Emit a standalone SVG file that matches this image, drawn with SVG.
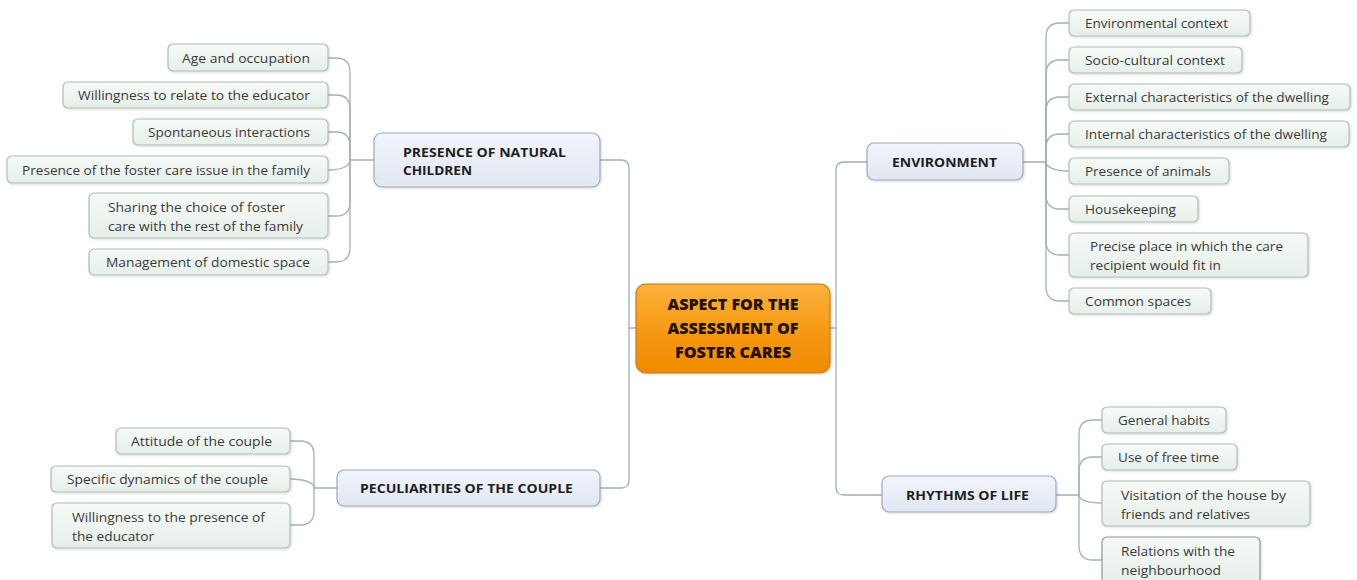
<svg xmlns="http://www.w3.org/2000/svg" width="1357" height="580" viewBox="0 0 1357 580">
<defs>
<linearGradient id="gLeaf" x1="0" y1="0" x2="0" y2="1"><stop offset="0" stop-color="#f6faf7"/><stop offset="1" stop-color="#e6efe9"/></linearGradient>
<linearGradient id="gMain" x1="0" y1="0" x2="0" y2="1"><stop offset="0" stop-color="#f2f5fb"/><stop offset="1" stop-color="#e0e7f1"/></linearGradient>
<linearGradient id="gCenter" x1="0" y1="0" x2="0" y2="1"><stop offset="0" stop-color="#fbb23e"/><stop offset="0.5" stop-color="#f69a14"/><stop offset="1" stop-color="#ef8a00"/></linearGradient>
<filter id="sh" x="-5%" y="-10%" width="110%" height="130%"><feDropShadow dx="1" dy="1" stdDeviation="1" flood-color="#000" flood-opacity="0.15"/></filter>
</defs>
<style>
.leaf{fill:url(#gLeaf);stroke:#aebdb6;stroke-width:1.2;filter:url(#sh)}
.main{fill:url(#gMain);stroke:#9ba8ba;stroke-width:1.2;filter:url(#sh)}
.center{fill:url(#gCenter);stroke:#d07a0c;stroke-width:1.2;filter:url(#sh)}
.t{font-family:"Open Sans","Noto Sans",sans-serif;font-size:13.5px;fill:#3a3a3a}
.b{font-family:"Open Sans","Noto Sans",sans-serif;font-size:13px;font-weight:bold;fill:#1e1e1e}
.c{font-family:"Open Sans","Noto Sans",sans-serif;font-size:15px;font-weight:800;fill:#241200;text-anchor:middle}
.con{fill:none;stroke:#a3afbb;stroke-width:1.3}
</style>
<rect width="1357" height="580" fill="#ffffff"/>
<g id="connectors">
<path class="con" d="M636 328 H629 V168 Q629 160 621 160 H600"/>
<path class="con" d="M629 328 V480 Q629 488 621 488 H600"/>
<path class="con" d="M830 328 H836 V170 Q836 162 844 162 H867"/>
<path class="con" d="M836 328 V487 Q836 495 844 495 H882"/>
<path class="con" d="M374 160 H350 V72 Q350 58 336 58 H328"/>
<path class="con" d="M350 160 V109 Q350 95 336 95 H328"/>
<path class="con" d="M350 160 V146 Q350 132 336 132 H328"/>
<path class="con" d="M350 160 C350 166 342 170 328 170"/>
<path class="con" d="M350 160 V202 Q350 216 336 216 H328"/>
<path class="con" d="M350 160 V248 Q350 262 336 262 H328"/>
<path class="con" d="M1023 162 H1046 V37 Q1046 23 1060 23 H1069"/>
<path class="con" d="M1046 162 V74 Q1046 60 1060 60 H1069"/>
<path class="con" d="M1046 162 V111 Q1046 97 1060 97 H1069"/>
<path class="con" d="M1046 162 V148 Q1046 134 1060 134 H1069"/>
<path class="con" d="M1046 162 C1046 167 1054 171 1069 171"/>
<path class="con" d="M1046 162 V195 Q1046 209 1060 209 H1069"/>
<path class="con" d="M1046 162 V241 Q1046 255 1060 255 H1069"/>
<path class="con" d="M1046 162 V287 Q1046 301 1060 301 H1069"/>
<path class="con" d="M337 488 H314 V455 Q314 441 300 441 H290"/>
<path class="con" d="M314 488 C314 483 306 479 290 479"/>
<path class="con" d="M314 488 V511 Q314 525 300 525 H290"/>
<path class="con" d="M1056 495 H1079 V434 Q1079 420 1093 420 H1102"/>
<path class="con" d="M1079 495 V471 Q1079 457 1093 457 H1102"/>
<path class="con" d="M1079 495 C1079 500 1088 503 1102 503"/>
<path class="con" d="M1079 495 V546 Q1079 560 1093 560 H1102"/>
</g>
<g id="center">
<rect class="center" x="636" y="284" width="194" height="89" rx="10"/>
<text class="c" x="733" y="310" textLength="131" lengthAdjust="spacingAndGlyphs">ASPECT FOR THE</text>
<text class="c" x="733" y="334" textLength="131" lengthAdjust="spacingAndGlyphs">ASSESSMENT OF</text>
<text class="c" x="733" y="358" textLength="116" lengthAdjust="spacingAndGlyphs">FOSTER CARES</text>
</g>
<g id="presence">
<rect class="main" x="374" y="133" width="226" height="54" rx="8"/>
<text class="b" x="403" y="157" textLength="163" lengthAdjust="spacingAndGlyphs">PRESENCE OF NATURAL</text>
<text class="b" x="403" y="175" textLength="69" lengthAdjust="spacingAndGlyphs">CHILDREN</text>
</g>
<g id="environment">
<rect class="main" x="867" y="143" width="156" height="37" rx="7"/>
<text class="b" x="892" y="167" textLength="105" lengthAdjust="spacingAndGlyphs">ENVIRONMENT</text>
</g>
<g id="peculiarities">
<rect class="main" x="337" y="470" width="263" height="36" rx="7"/>
<text class="b" x="360" y="493" textLength="213" lengthAdjust="spacingAndGlyphs">PECULIARITIES OF THE COUPLE</text>
</g>
<g id="rhythms">
<rect class="main" x="882" y="476" width="174" height="36" rx="7"/>
<text class="b" x="906" y="500" textLength="123" lengthAdjust="spacingAndGlyphs">RHYTHMS OF LIFE</text>
</g>
<g id="age">
<rect class="leaf" x="168" y="44" width="160" height="27" rx="5"/>
<text class="t" x="182" y="63" textLength="128" lengthAdjust="spacingAndGlyphs">Age and occupation</text>
</g>
<g id="willing-relate">
<rect class="leaf" x="63" y="82" width="265" height="26" rx="5"/>
<text class="t" x="78" y="100" textLength="232" lengthAdjust="spacingAndGlyphs">Willingness to relate to the educator</text>
</g>
<g id="spontaneous">
<rect class="leaf" x="133" y="119" width="195" height="26" rx="5"/>
<text class="t" x="148" y="137" textLength="162" lengthAdjust="spacingAndGlyphs">Spontaneous interactions</text>
</g>
<g id="foster-issue">
<rect class="leaf" x="7" y="156" width="321" height="27" rx="5"/>
<text class="t" x="22" y="175" textLength="288" lengthAdjust="spacingAndGlyphs">Presence of the foster care issue in the family</text>
</g>
<g id="sharing">
<rect class="leaf" x="89" y="193" width="239" height="45" rx="5"/>
<text class="t" x="108" y="212" textLength="177" lengthAdjust="spacingAndGlyphs">Sharing the choice of foster</text>
<text class="t" x="108" y="231" textLength="195" lengthAdjust="spacingAndGlyphs">care with the rest of the family</text>
</g>
<g id="management">
<rect class="leaf" x="89" y="249" width="239" height="26" rx="5"/>
<text class="t" x="106" y="267" textLength="204" lengthAdjust="spacingAndGlyphs">Management of domestic space</text>
</g>
<g id="env-context">
<rect class="leaf" x="1069" y="10" width="181" height="26" rx="5"/>
<text class="t" x="1085" y="28" textLength="143" lengthAdjust="spacingAndGlyphs">Environmental context</text>
</g>
<g id="socio">
<rect class="leaf" x="1069" y="47" width="173" height="26" rx="5"/>
<text class="t" x="1085" y="65" textLength="140" lengthAdjust="spacingAndGlyphs">Socio-cultural context</text>
</g>
<g id="external">
<rect class="leaf" x="1069" y="84" width="281" height="26" rx="5"/>
<text class="t" x="1085" y="102" textLength="244" lengthAdjust="spacingAndGlyphs">External characteristics of the dwelling</text>
</g>
<g id="internal">
<rect class="leaf" x="1069" y="121" width="280" height="26" rx="5"/>
<text class="t" x="1085" y="139" textLength="242" lengthAdjust="spacingAndGlyphs">Internal characteristics of the dwelling</text>
</g>
<g id="animals">
<rect class="leaf" x="1069" y="158" width="160" height="26" rx="5"/>
<text class="t" x="1085" y="176" textLength="126" lengthAdjust="spacingAndGlyphs">Presence of animals</text>
</g>
<g id="housekeeping">
<rect class="leaf" x="1069" y="196" width="129" height="26" rx="5"/>
<text class="t" x="1085" y="214" textLength="91" lengthAdjust="spacingAndGlyphs">Housekeeping</text>
</g>
<g id="precise">
<rect class="leaf" x="1069" y="233" width="239" height="44" rx="5"/>
<text class="t" x="1090" y="251" textLength="193" lengthAdjust="spacingAndGlyphs">Precise place in which the care</text>
<text class="t" x="1090" y="270" textLength="131" lengthAdjust="spacingAndGlyphs">recipient would fit in</text>
</g>
<g id="common">
<rect class="leaf" x="1069" y="288" width="142" height="26" rx="5"/>
<text class="t" x="1085" y="306" textLength="106" lengthAdjust="spacingAndGlyphs">Common spaces</text>
</g>
<g id="attitude">
<rect class="leaf" x="116" y="428" width="174" height="26" rx="5"/>
<text class="t" x="131" y="446" textLength="141" lengthAdjust="spacingAndGlyphs">Attitude of the couple</text>
</g>
<g id="dynamics">
<rect class="leaf" x="51" y="466" width="239" height="26" rx="5"/>
<text class="t" x="67" y="484" textLength="201" lengthAdjust="spacingAndGlyphs">Specific dynamics of the couple</text>
</g>
<g id="willing-presence">
<rect class="leaf" x="52" y="503" width="238" height="45" rx="5"/>
<text class="t" x="72" y="522" textLength="193" lengthAdjust="spacingAndGlyphs">Willingness to the presence of</text>
<text class="t" x="72" y="541" textLength="82" lengthAdjust="spacingAndGlyphs">the educator</text>
</g>
<g id="habits">
<rect class="leaf" x="1102" y="407" width="124" height="26" rx="5"/>
<text class="t" x="1118" y="425" textLength="92" lengthAdjust="spacingAndGlyphs">General habits</text>
</g>
<g id="free-time">
<rect class="leaf" x="1102" y="444" width="135" height="26" rx="5"/>
<text class="t" x="1118" y="462" textLength="101" lengthAdjust="spacingAndGlyphs">Use of free time</text>
</g>
<g id="visitation">
<rect class="leaf" x="1102" y="481" width="208" height="45" rx="5"/>
<text class="t" x="1121" y="500" textLength="165" lengthAdjust="spacingAndGlyphs">Visitation of the house by</text>
<text class="t" x="1121" y="519" textLength="129" lengthAdjust="spacingAndGlyphs">friends and relatives</text>
</g>
<g id="relations">
<rect class="leaf" x="1102" y="537" width="158" height="46" rx="5" style="stroke:#8e9c97"/>
<text class="t" x="1121" y="556" textLength="114" lengthAdjust="spacingAndGlyphs">Relations with the</text>
<text class="t" x="1121" y="575" textLength="100" lengthAdjust="spacingAndGlyphs">neighbourhood</text>
</g>
</svg>
